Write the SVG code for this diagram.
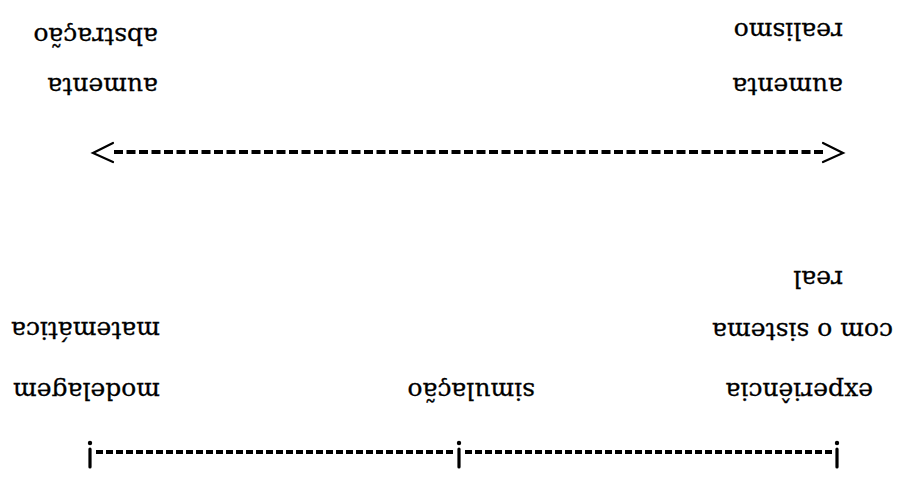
<svg xmlns="http://www.w3.org/2000/svg" width="905" height="484" viewBox="0 0 905 484">
<style>
  .lbl { font-family: "DejaVu Serif", "Liberation Serif", serif; font-size: 25px; fill: #000; stroke: #000; stroke-width: 0.3; }
  .dashTop { stroke: #000; stroke-width: 4; stroke-dasharray: 9 3.5; fill: none; }
  .dashBot { stroke: #000; stroke-width: 4; stroke-dasharray: 7 3; fill: none; }
  .head { stroke: #000; stroke-width: 2.2; fill: none; stroke-linecap: round; stroke-linejoin: miter; }
  .tick { stroke: #000; stroke-width: 3.2; stroke-linecap: round; }
</style>
<rect width="905" height="484" fill="#fff"/>
<g transform="rotate(180 452.5 242)">
  <g id="node-realismo">
    <text class="lbl" x="62" y="406">aumenta</text>
    <text class="lbl" x="62" y="461">realismo</text>
  </g>
  <g id="node-abstracao">
    <text class="lbl" x="747" y="406">aumenta</text>
    <text class="lbl" x="747" y="456">abstração</text>
  </g>
  <g id="node-experiencia">
    <text class="lbl" x="62" y="213">real</text>
    <text class="lbl" x="12" y="161">com o sistema</text>
    <text class="lbl" x="32" y="101">experiência</text>
  </g>
  <g id="node-simulacao">
    <text class="lbl" x="370" y="101">simulação</text>
  </g>
  <g id="node-modelagem">
    <text class="lbl" x="745" y="162">matemática</text>
    <text class="lbl" x="745" y="101">modelagem</text>
  </g>
  <g id="connectors">
    <line class="dashTop" x1="82" y1="332" x2="792" y2="332"/>
    <polyline class="head" points="82,322 62,331 82,341"/>
    <polyline class="head" points="792,322 812,331 792,341"/>
    <line class="dashBot" x1="73" y1="32" x2="441" y2="32"/>
    <line class="dashBot" x1="452" y1="32" x2="810" y2="32"/>
    <line class="tick" x1="68" y1="17" x2="68" y2="35"/>
    <circle cx="68" cy="41" r="2.2"/>
    <line class="tick" x1="446" y1="17" x2="446" y2="35"/>
    <circle cx="446" cy="41" r="2.2"/>
    <line class="tick" x1="815" y1="17" x2="815" y2="35"/>
    <circle cx="815" cy="41" r="2.2"/>
  </g>
</g>
</svg>
